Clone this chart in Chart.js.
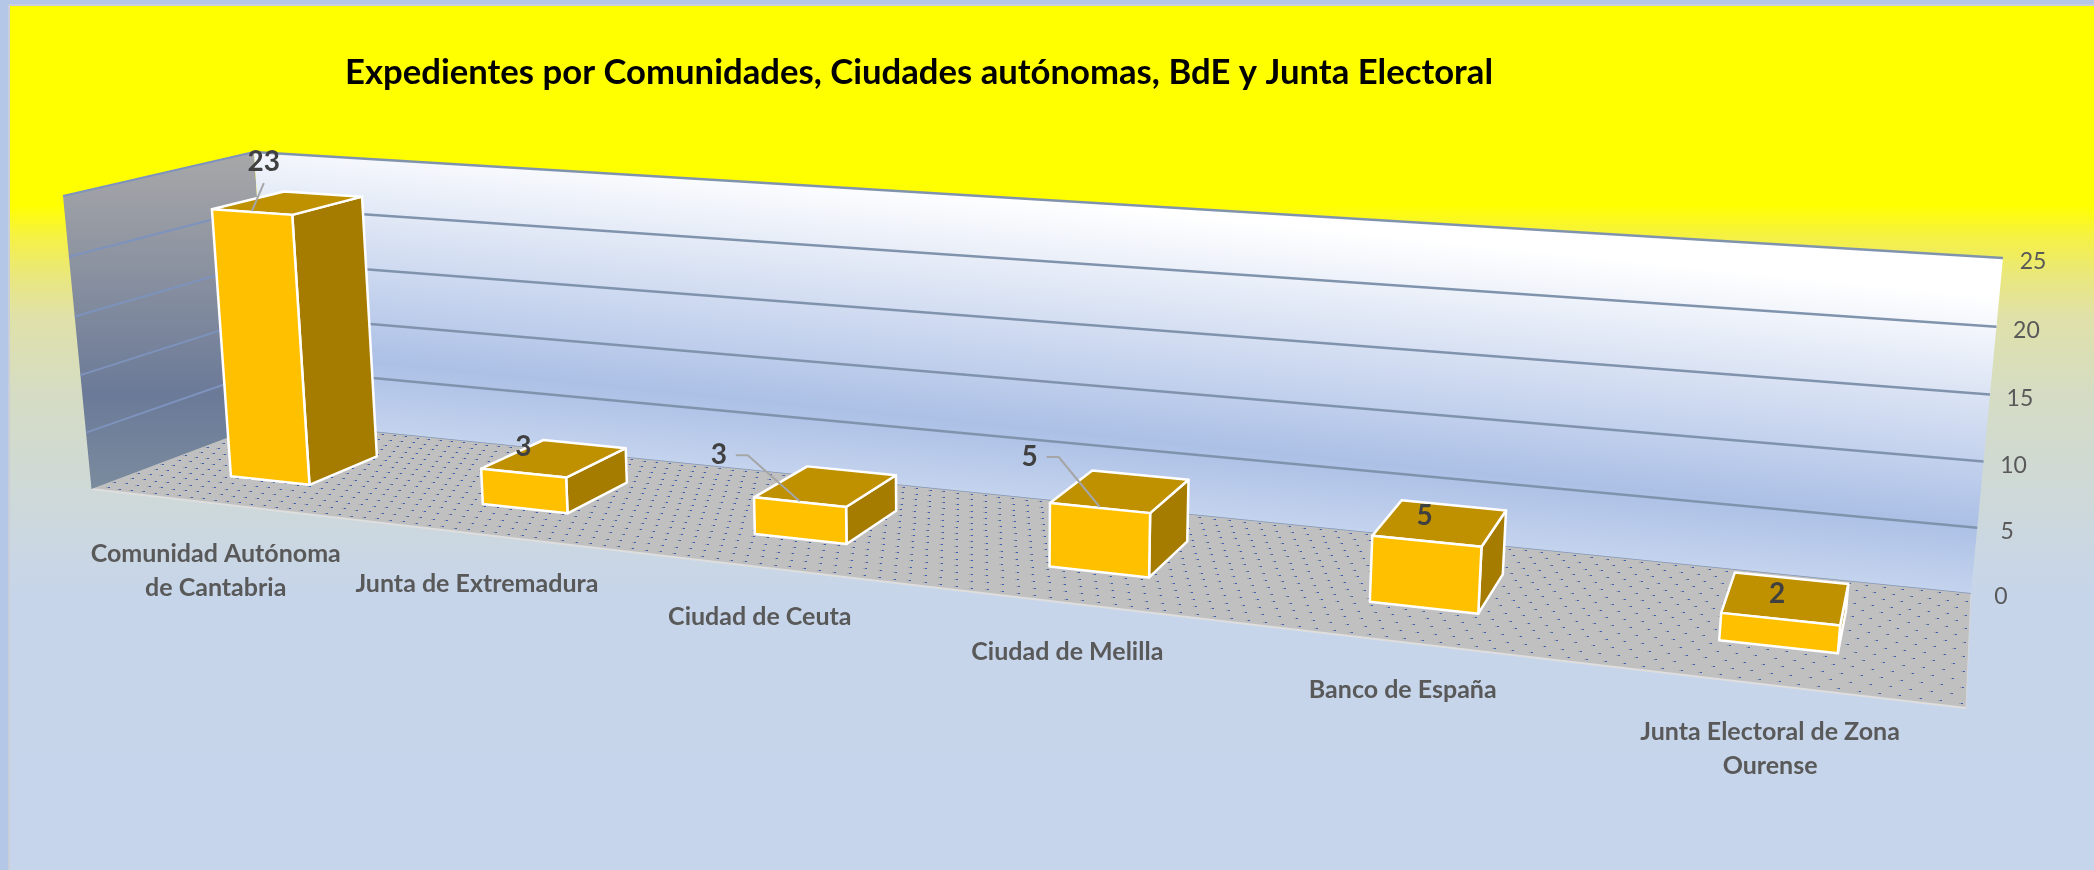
<!DOCTYPE html>
<html lang="es">
<head>
<meta charset="utf-8">
<title>Expedientes</title>
<script src="https://cdn.jsdelivr.net/npm/chart.js@4/dist/chart.umd.min.js"></script>
<style>
    html, body { margin: 0; padding: 0; background: #b4c7e7; overflow: hidden; }
    canvas { display: block; }
</style>
</head>
<body>
<canvas id="expedientesChart" width="2094" height="870"></canvas>
<script>
// Chart data
const chartTitle = 'Expedientes por Comunidades, Ciudades autónomas, BdE y Junta Electoral';
const categories = [
    ['Comunidad Autónoma', 'de Cantabria'],
    'Junta de Extremadura',
    'Ciudad de Ceuta',
    'Ciudad de Melilla',
    'Banco de España',
    ['Junta Electoral de Zona', 'Ourense']
];
const seriesValues = [23, 3, 3, 5, 5, 2];
const yMax = 25;
const yStep = 5;

// Corners of the 3D box on screen (layout only)
const corner = {
    backLeft: [272, 421], backRight: [1971, 593],
    frontLeft: [91.5, 489], frontRight: [1966, 708],
    backLeftTop: [254, 152], backRightTop: [2003, 258],
    frontLeftTop: [63, 196]
};
const barDepth = [0.3, 0.7];
// Data label position relative to the middle of the front top edge of each bar
const labelOffsets = [[12, -50], [0, -26], [-81, -47], [-70, -51], [-2, -25], [-3, -25]];
const FONT = 'Lato, "Open Sans", sans-serif';

// Maps the unit square onto a quad (p0 at 0,0 / p1 at 1,0 / p2 at 1,1 / p3 at 0,1)
function squareToQuad(p0, p1, p2, p3) {
    const dx1 = p1[0] - p2[0], dx2 = p3[0] - p2[0], sx = p0[0] - p1[0] + p2[0] - p3[0];
    const dy1 = p1[1] - p2[1], dy2 = p3[1] - p2[1], sy = p0[1] - p1[1] + p2[1] - p3[1];
    const det = dx1 * dy2 - dx2 * dy1;
    const g = (sx * dy2 - dx2 * sy) / det;
    const h = (dx1 * sy - sx * dy1) / det;
    return {
        a: p1[0] - p0[0] + g * p1[0], b: p3[0] - p0[0] + h * p3[0], c: p0[0],
        d: p1[1] - p0[1] + g * p1[1], e: p3[1] - p0[1] + h * p3[1], f: p0[1],
        g: g, h: h
    };
}

function applyQuad(m, s, t) {
    const w = m.g * s + m.h * t + 1;
    return [(m.a * s + m.b * t + m.c) / w, (m.d * s + m.e * t + m.f) / w];
}

const floorMap = squareToQuad(corner.backLeft, corner.backRight, corner.frontRight, corner.frontLeft);
const backMap = squareToQuad(corner.backLeft, corner.backRight, corner.backRightTop, corner.backLeftTop);
const sideMap = squareToQuad(corner.backLeft, corner.frontLeft, corner.frontLeftTop, corner.backLeftTop);

// u: along the categories, z: up the value axis, d: from back wall to front
function project(u, z, d) {
    const w = backMap.g * u + floorMap.h * d + backMap.h * z + 1;
    return [
        (backMap.a * u + floorMap.b * d + backMap.b * z + backMap.c) / w,
        (backMap.d * u + floorMap.e * d + backMap.e * z + backMap.f) / w
    ];
}

function fillPoly(ctx, points, fill, stroke) {
    ctx.beginPath();
    points.forEach((p, i) => i ? ctx.lineTo(p[0], p[1]) : ctx.moveTo(p[0], p[1]));
    ctx.closePath();
    if (fill) { ctx.fillStyle = fill; ctx.fill(); }
    if (stroke) { ctx.strokeStyle = stroke; ctx.stroke(); }
}

function strokeLine(ctx, a, b, color, width) {
    ctx.beginPath();
    ctx.moveTo(a[0], a[1]);
    ctx.lineTo(b[0], b[1]);
    ctx.strokeStyle = color;
    ctx.lineWidth = width;
    ctx.stroke();
}

function drawBackground(ctx, chart) {
    const W = chart.width, H = chart.height;
    ctx.fillStyle = '#b4c7e7';
    ctx.fillRect(0, 0, W, H);
    ctx.fillStyle = '#c9ced8';
    ctx.fillRect(8, 4, W - 8, H - 4);
    const grad = ctx.createLinearGradient(0, 0, 0, H);
    [[0, '#ffff00'], [205, '#ffff00'], [237, '#f5f145'], [277, '#e9e77e'], [316, '#e0e1a8'],
     [395, '#d5dcc4'], [514, '#cdd8dc'], [593, '#c7d5ea'], [870, '#c7d5ec']].forEach(s => {
        grad.addColorStop(s[0] / H, s[1]);
    });
    ctx.fillStyle = grad;
    ctx.fillRect(10, 6, W - 10, H - 6);
}

function drawFloor(ctx) {
    fillPoly(ctx, [corner.backLeft, corner.backRight, corner.frontRight, corner.frontLeft], '#c0c0c0');
    // Dotted fill of the floor
    const rows = 15, cols = 120;
    for (let r = 0; r <= rows; r++) {
        for (let c = 0; c < cols; c++) {
            const p = applyQuad(floorMap, (c + (r % 2) * 0.5 + 0.25) / cols, (r + 0.4) / (rows + 1));
            const px = Math.round(p[0]), py = Math.round(p[1]);
            ctx.fillStyle = '#a3a5aa';
            ctx.fillRect(px - 2, py, 2, 1);
            ctx.fillStyle = '#3f5fb0';
            ctx.fillRect(px, py, 2, 1);
        }
    }
    strokeLine(ctx, corner.frontLeft, corner.frontRight, '#dedede', 2);
    strokeLine(ctx, corner.frontRight, corner.backRight, '#d6d9de', 1);
    strokeLine(ctx, corner.backLeft, corner.backRight, '#8296b4', 1.5);
}

function drawWalls(ctx, chart) {
    const y = chart.scales.y;
    const area = chart.chartArea;

    // Left side wall
    const sideGrad = ctx.createLinearGradient(0, 150, 0, 490);
    sideGrad.addColorStop(0, '#a8a8a8');
    sideGrad.addColorStop(0.72, '#6b7a98');
    sideGrad.addColorStop(1, '#7b8b9e');
    fillPoly(ctx, [corner.backLeft, corner.frontLeft, corner.frontLeftTop, corner.backLeftTop], sideGrad);

    // Back wall, gradient runs across the gridlines
    const a = applyQuad(backMap, 0.5, 1), b = applyQuad(backMap, 0.5, 0);
    const slope = (corner.backRight[1] - corner.backLeft[1]) / (corner.backRight[0] - corner.backLeft[0]);
    const dy = b[1] - a[1];
    const backGrad = ctx.createLinearGradient(a[0], a[1], a[0] - slope * dy, a[1] + dy);
    backGrad.addColorStop(0, '#ffffff');
    backGrad.addColorStop(0.76, '#acc0e6');
    backGrad.addColorStop(1, '#c5d4ee');
    fillPoly(ctx, [corner.backLeft, corner.backRight, corner.backRightTop, corner.backLeftTop], backGrad);

    // Gridlines and value labels come from the y scale
    y.ticks.forEach(tick => {
        const z = (area.bottom - y.getPixelForValue(tick.value)) / area.height;
        if (tick.value > 0) {
            strokeLine(ctx, applyQuad(sideMap, 0, z), applyQuad(sideMap, 1, z), '#7d93bd', 2);
            strokeLine(ctx, applyQuad(backMap, 0, z), applyQuad(backMap, 1, z), '#8093ad', 2.5);
        }
        const p = applyQuad(backMap, 1, z);
        ctx.fillStyle = '#595959';
        ctx.font = '23px ' + FONT;
        ctx.textAlign = 'center';
        ctx.textBaseline = 'middle';
        ctx.fillText(String(tick.value), p[0] + 30, p[1] + 4);
    });
}

function drawBars(ctx, chart) {
    const area = chart.chartArea;
    const bars = chart.getDatasetMeta(0).data;
    const [d0, d1] = barDepth;

    bars.forEach(bar => {
        const u0 = (bar.x - bar.width / 2 - area.left) / area.width;
        const u1 = (bar.x + bar.width / 2 - area.left) / area.width;
        const z = (area.bottom - bar.y) / area.height;

        ctx.lineWidth = 2.5;
        ctx.lineJoin = 'round';
        // Right side, top and front faces
        fillPoly(ctx, [project(u1, 0, d1), project(u1, 0, d0), project(u1, z, d0), project(u1, z, d1)], '#a57c00', '#ffffff');
        fillPoly(ctx, [project(u0, z, d1), project(u1, z, d1), project(u1, z, d0), project(u0, z, d0)], '#bf9000', '#ffffff');
        fillPoly(ctx, [project(u0, 0, d1), project(u1, 0, d1), project(u1, z, d1), project(u0, z, d1)], '#ffc000', '#ffffff');
    });
}

function drawCategoryLabels(ctx, chart) {
    const x = chart.scales.x;
    const area = chart.chartArea;
    ctx.fillStyle = '#595959';
    ctx.font = 'bold 25px ' + FONT;
    ctx.textAlign = 'center';
    ctx.textBaseline = 'middle';
    x.getLabels().forEach((label, i) => {
        const u = (x.getPixelForTick(i) - area.left) / area.width;
        const p = project(u, 0, 1);
        [].concat(label).forEach((line, n) => {
            ctx.fillText(line, p[0] + 1, p[1] + 51 + n * 34);
        });
    });
}

function drawDataLabels(ctx, chart) {
    const area = chart.chartArea;
    const bars = chart.getDatasetMeta(0).data;
    ctx.font = 'bold 28px ' + FONT;
    ctx.textAlign = 'center';
    ctx.textBaseline = 'middle';
    bars.forEach((bar, i) => {
        const u = (bar.x - area.left) / area.width;
        const z = (area.bottom - bar.y) / area.height;
        const edge = project(u, z, barDepth[1]);
        const off = labelOffsets[i];
        const lx = edge[0] + off[0], ly = edge[1] + off[1];

        // Leader lines for labels moved away from their bar
        if (Math.abs(off[1]) > 40) {
            ctx.beginPath();
            if (off[0] < 0) {
                ctx.moveTo(lx + 17, ly);
                ctx.lineTo(lx + 29, ly);
            } else {
                ctx.moveTo(lx, ly + 21);
            }
            ctx.lineTo(edge[0], edge[1] - 1);
            ctx.strokeStyle = '#a6a6a6';
            ctx.lineWidth = 2;
            ctx.stroke();
        }
        ctx.fillStyle = '#404040';
        ctx.fillText(String(seriesValues[i]), lx, ly);
    });
}

function drawTitle(ctx) {
    ctx.save();
    ctx.fillStyle = '#000000';
    ctx.font = 'bold 34px ' + FONT;
    ctx.textAlign = 'left';
    ctx.textBaseline = 'middle';
    ctx.translate(345, 73);
    ctx.scale(1148 / ctx.measureText(chartTitle).width, 1);
    ctx.fillText(chartTitle, 0, 0);
    ctx.restore();
}

// Draws the whole 3D scene from the chart's own scales and bar elements
const scenePlugin = {
    id: 'scene3d',
    beforeDatasetsDraw(chart) {
        const ctx = chart.ctx;
        ctx.save();
        drawBackground(ctx, chart);
        drawFloor(ctx);
        drawWalls(ctx, chart);
        drawBars(ctx, chart);
        drawCategoryLabels(ctx, chart);
        drawDataLabels(ctx, chart);
        drawTitle(ctx);
        ctx.restore();
        return false;
    }
};

document.addEventListener('DOMContentLoaded', function() {
    new Chart(document.getElementById('expedientesChart'), {
        type: 'bar',
        data: {
            labels: categories,
            datasets: [{
                label: 'Expedientes',
                data: seriesValues,
                backgroundColor: '#ffc000',
                categoryPercentage: 1,
                barPercentage: 0.32
            }]
        },
        options: {
            responsive: false,
            animation: false,
            plugins: {
                legend: { display: false },
                tooltip: { enabled: false }
            },
            scales: {
                x: { display: false },
                y: { display: false, min: 0, max: yMax, ticks: { stepSize: yStep } }
            }
        },
        plugins: [scenePlugin]
    });
});
</script>
</body>
</html>
